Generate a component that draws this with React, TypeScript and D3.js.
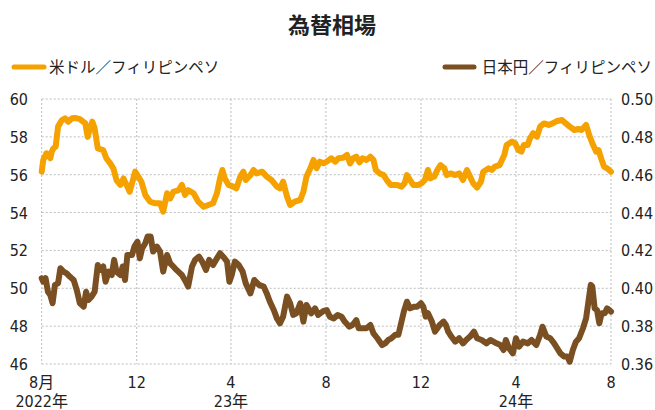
import * as d3 from 'd3'

const width = 655
const height = 410
const marginTop = 99
const marginRight = 44
const marginBottom = 46
const marginLeft = 41.7

// 米ドル／フィリピンペソ (left axis)
const usdPhp: [string, number][] = [
  ['2022-08-01', 56.16], ['2022-08-03', 56.78], ['2022-08-07', 57.13], ['2022-08-12', 56.87],
  ['2022-08-14', 57.22], ['2022-08-16', 57.39], ['2022-08-19', 57.48], ['2022-08-22', 58.54],
  ['2022-08-27', 58.89], ['2022-08-31', 58.98], ['2022-09-04', 58.8], ['2022-09-09', 58.98],
  ['2022-09-13', 59.0], ['2022-09-19', 58.94], ['2022-09-26', 58.71], ['2022-09-29', 58.0],
  ['2022-10-02', 58.45], ['2022-10-05', 58.8], ['2022-10-08', 58.45], ['2022-10-12', 57.39],
  ['2022-10-19', 57.3], ['2022-10-23', 56.87], ['2022-10-28', 56.6], ['2022-11-01', 56.34],
  ['2022-11-05', 55.72], ['2022-11-10', 55.46], ['2022-11-14', 55.8], ['2022-11-18', 55.46],
  ['2022-11-22', 55.1], ['2022-11-29', 56.16], ['2022-12-03', 55.9], ['2022-12-07', 55.63],
  ['2022-12-12', 54.93], ['2022-12-18', 54.58], ['2022-12-25', 54.49], ['2022-12-31', 54.49],
  ['2023-01-04', 54.05], ['2023-01-09', 55.02], ['2023-01-13', 54.75], ['2023-01-17', 55.1],
  ['2023-01-24', 55.19], ['2023-01-28', 55.46], ['2023-02-01', 54.93], ['2023-02-05', 55.19],
  ['2023-02-12', 55.02], ['2023-02-18', 54.58], ['2023-02-25', 54.31], ['2023-03-03', 54.4],
  ['2023-03-09', 54.49], ['2023-03-14', 55.02], ['2023-03-18', 55.81], ['2023-03-21', 56.25],
  ['2023-03-24', 55.81], ['2023-03-29', 55.46], ['2023-04-04', 55.37], ['2023-04-08', 55.28],
  ['2023-04-13', 55.9], ['2023-04-17', 56.16], ['2023-04-20', 55.72], ['2023-04-26', 55.98],
  ['2023-04-30', 56.25], ['2023-05-04', 56.07], ['2023-05-11', 56.16], ['2023-05-17', 55.9],
  ['2023-05-23', 55.72], ['2023-05-30', 55.37], ['2023-06-03', 55.28], ['2023-06-07', 55.63],
  ['2023-06-12', 54.84], ['2023-06-16', 54.4], ['2023-06-22', 54.58], ['2023-06-29', 54.67],
  ['2023-07-03', 55.1], ['2023-07-07', 55.9], ['2023-07-12', 56.34], ['2023-07-16', 56.78],
  ['2023-07-20', 56.34], ['2023-07-24', 56.69], ['2023-07-29', 56.6], ['2023-08-02', 56.69],
  ['2023-08-08', 56.87], ['2023-08-13', 56.69], ['2023-08-17', 56.87], ['2023-08-23', 56.9],
  ['2023-08-28', 57.04], ['2023-09-01', 56.6], ['2023-09-05', 56.87], ['2023-09-09', 56.95],
  ['2023-09-13', 56.65], ['2023-09-17', 56.87], ['2023-09-22', 56.78], ['2023-09-27', 56.95],
  ['2023-10-01', 56.78], ['2023-10-04', 56.25], ['2023-10-09', 56.07], ['2023-10-14', 55.98],
  ['2023-10-18', 55.72], ['2023-10-23', 55.46], ['2023-10-31', 55.46], ['2023-11-06', 55.37],
  ['2023-11-10', 55.55], ['2023-11-13', 55.98], ['2023-11-17', 55.72], ['2023-11-21', 55.46],
  ['2023-11-28', 55.46], ['2023-12-02', 55.55], ['2023-12-06', 55.72], ['2023-12-10', 56.25],
  ['2023-12-13', 55.81], ['2023-12-18', 55.9], ['2023-12-22', 56.25], ['2023-12-26', 56.51],
  ['2023-12-31', 56.34], ['2024-01-03', 55.98], ['2024-01-08', 56.07], ['2024-01-14', 55.98],
  ['2024-01-19', 56.07], ['2024-01-24', 55.72], ['2024-01-29', 56.25], ['2024-02-02', 55.9],
  ['2024-02-06', 55.55], ['2024-02-11', 55.32], ['2024-02-16', 55.63], ['2024-02-19', 56.16],
  ['2024-02-26', 56.34], ['2024-03-01', 56.25], ['2024-03-05', 56.43], ['2024-03-11', 56.51],
  ['2024-03-17', 57.04], ['2024-03-20', 57.57], ['2024-03-27', 57.75], ['2024-03-31', 57.66],
  ['2024-04-04', 57.3], ['2024-04-08', 57.22], ['2024-04-11', 57.57], ['2024-04-16', 57.57],
  ['2024-04-19', 57.92], ['2024-04-23', 58.19], ['2024-04-28', 58.01], ['2024-05-02', 58.54],
  ['2024-05-07', 58.71], ['2024-05-13', 58.63], ['2024-05-18', 58.71], ['2024-05-24', 58.84],
  ['2024-05-30', 58.89], ['2024-06-04', 58.71], ['2024-06-09', 58.54], ['2024-06-15', 58.36],
  ['2024-06-20', 58.42], ['2024-06-24', 58.36], ['2024-06-30', 58.63], ['2024-07-04', 58.1],
  ['2024-07-08', 57.66], ['2024-07-13', 57.22], ['2024-07-16', 57.3], ['2024-07-20', 56.78],
  ['2024-07-23', 56.43], ['2024-07-27', 56.34], ['2024-08-01', 56.16],
]

// 日本円／フィリピンペソ (right axis)
const jpyPhp: [string, number][] = [
  ['2022-08-01', 0.4053], ['2022-08-03', 0.4035], ['2022-08-06', 0.4053], ['2022-08-09', 0.3982],
  ['2022-08-12', 0.3965], ['2022-08-15', 0.3921], ['2022-08-18', 0.4018], ['2022-08-22', 0.4026],
  ['2022-08-25', 0.4106], ['2022-08-29', 0.4088], ['2022-09-02', 0.4079], ['2022-09-06', 0.4062],
  ['2022-09-11', 0.4044], ['2022-09-15', 0.3991], ['2022-09-19', 0.3921], ['2022-09-24', 0.3903],
  ['2022-09-27', 0.3982], ['2022-09-30', 0.3938], ['2022-10-04', 0.3956], ['2022-10-08', 0.3982],
  ['2022-10-12', 0.4123], ['2022-10-15', 0.4097], ['2022-10-19', 0.4115], ['2022-10-22', 0.4035],
  ['2022-10-26', 0.4088], ['2022-10-30', 0.407], ['2022-11-02', 0.415], ['2022-11-05', 0.4088],
  ['2022-11-10', 0.407], ['2022-11-13', 0.4115], ['2022-11-16', 0.4044], ['2022-11-19', 0.4176],
  ['2022-11-25', 0.4176], ['2022-11-28', 0.422], ['2022-12-02', 0.4246], ['2022-12-05', 0.4158],
  ['2022-12-08', 0.4211], ['2022-12-12', 0.4238], ['2022-12-15', 0.4273], ['2022-12-19', 0.4273],
  ['2022-12-22', 0.4194], ['2022-12-27', 0.422], ['2022-12-31', 0.4194], ['2023-01-04', 0.4088],
  ['2023-01-09', 0.4176], ['2023-01-13', 0.4132], ['2023-01-17', 0.4115], ['2023-01-21', 0.4097],
  ['2023-01-28', 0.407], ['2023-02-02', 0.4035], ['2023-02-05', 0.4009], ['2023-02-10', 0.4115],
  ['2023-02-14', 0.415], ['2023-02-19', 0.4167], ['2023-02-23', 0.4141], ['2023-02-28', 0.4097],
  ['2023-03-04', 0.415], ['2023-03-09', 0.4123], ['2023-03-14', 0.4158], ['2023-03-18', 0.4185],
  ['2023-03-22', 0.4167], ['2023-03-27', 0.4141], ['2023-03-30', 0.4035], ['2023-04-02', 0.407],
  ['2023-04-06', 0.4141], ['2023-04-11', 0.4123], ['2023-04-16', 0.4088], ['2023-04-20', 0.4026],
  ['2023-04-26', 0.3973], ['2023-05-01', 0.4044], ['2023-05-07', 0.4018], ['2023-05-13', 0.4009],
  ['2023-05-17', 0.3973], ['2023-05-21', 0.3929], ['2023-05-26', 0.3885], ['2023-05-30', 0.3841],
  ['2023-06-03', 0.3815], ['2023-06-07', 0.385], ['2023-06-12', 0.3956], ['2023-06-16', 0.3921],
  ['2023-06-20', 0.3859], ['2023-06-24', 0.3868], ['2023-06-29', 0.3921], ['2023-07-03', 0.3824],
  ['2023-07-07', 0.3912], ['2023-07-13', 0.3868], ['2023-07-18', 0.3894], ['2023-07-22', 0.3859],
  ['2023-07-29', 0.3881], ['2023-08-02', 0.3885], ['2023-08-06', 0.385], ['2023-08-11', 0.3841],
  ['2023-08-16', 0.3859], ['2023-08-21', 0.385], ['2023-08-25', 0.3824], ['2023-08-31', 0.3797],
  ['2023-09-04', 0.3806], ['2023-09-09', 0.3832], ['2023-09-12', 0.3789], ['2023-09-17', 0.3789],
  ['2023-09-22', 0.3789], ['2023-09-27', 0.3806], ['2023-10-01', 0.3762], ['2023-10-06', 0.3736],
  ['2023-10-12', 0.37], ['2023-10-16', 0.3709], ['2023-10-20', 0.3727], ['2023-10-24', 0.3736],
  ['2023-10-29', 0.3754], ['2023-11-02', 0.3754], ['2023-11-06', 0.3824], ['2023-11-09', 0.3877],
  ['2023-11-13', 0.3929], ['2023-11-17', 0.3894], ['2023-11-22', 0.3903], ['2023-11-26', 0.3903],
  ['2023-12-01', 0.3921], ['2023-12-04', 0.3903], ['2023-12-07', 0.385], ['2023-12-10', 0.3868],
  ['2023-12-15', 0.3824], ['2023-12-19', 0.3771], ['2023-12-25', 0.3806], ['2023-12-30', 0.3824],
  ['2024-01-02', 0.3806], ['2024-01-05', 0.3771], ['2024-01-09', 0.3745], ['2024-01-14', 0.3718],
  ['2024-01-19', 0.3736], ['2024-01-24', 0.3709], ['2024-01-28', 0.3727], ['2024-02-02', 0.3745],
  ['2024-02-07', 0.3771], ['2024-02-11', 0.3736], ['2024-02-17', 0.3727], ['2024-02-23', 0.3709],
  ['2024-02-28', 0.3727], ['2024-03-03', 0.3718], ['2024-03-07', 0.3709], ['2024-03-12', 0.37],
  ['2024-03-16', 0.3674], ['2024-03-19', 0.3727], ['2024-03-23', 0.3683], ['2024-03-28', 0.3656],
  ['2024-04-01', 0.3736], ['2024-04-05', 0.3692], ['2024-04-10', 0.3718], ['2024-04-16', 0.3709],
  ['2024-04-21', 0.3727], ['2024-04-27', 0.37], ['2024-05-02', 0.3754], ['2024-05-05', 0.3797],
  ['2024-05-10', 0.3745], ['2024-05-15', 0.3736], ['2024-05-20', 0.3709], ['2024-05-24', 0.3683],
  ['2024-05-28', 0.3656], ['2024-06-02', 0.3639], ['2024-06-06', 0.3639], ['2024-06-09', 0.3612],
  ['2024-06-13', 0.3674], ['2024-06-17', 0.3718], ['2024-06-21', 0.3736], ['2024-06-26', 0.3789],
  ['2024-06-30', 0.3841], ['2024-07-03', 0.3929], ['2024-07-06', 0.4018], ['2024-07-08', 0.4009],
  ['2024-07-11', 0.3894], ['2024-07-14', 0.3885], ['2024-07-17', 0.3815], ['2024-07-20', 0.3868],
  ['2024-07-24', 0.3868], ['2024-07-27', 0.3894], ['2024-08-01', 0.3877],
]

const leftTicks = [46, 48, 50, 52, 54, 56, 58, 60]
const rightTicks = [0.36, 0.38, 0.4, 0.42, 0.44, 0.46, 0.48, 0.5]
const monthTicks = ['2022-08-01', '2022-12-01', '2023-04-01', '2023-08-01', '2023-12-01', '2024-04-01', '2024-08-01']
const monthLabels = ['8月', '12', '4', '8', '12', '4', '8']
const yearLabels = ['2022年', '', '23年', '', '', '24年', '']

const orange = '#f5a200'
const brown = '#7a4f22'
const tickFont = "'DejaVu Sans', 'Noto Sans CJK JP', sans-serif"
const cjkFont = "'Noto Sans CJK JP', sans-serif"

const parse = d3.timeParse('%Y-%m-%d')

export default function App() {
  const x = d3.scaleTime(
    [parse('2022-08-01')!, parse('2024-08-01')!],
    [marginLeft, width - marginRight]
  )
  const yL = d3.scaleLinear([46, 60], [height - marginBottom, marginTop])
  const yR = d3.scaleLinear([0.36, 0.5], [height - marginBottom, marginTop])

  const lineL = d3
    .line<[string, number]>()
    .x(d => x(parse(d[0])!))
    .y(d => yL(d[1]))
  const lineR = d3
    .line<[string, number]>()
    .x(d => x(parse(d[0])!))
    .y(d => yR(d[1]))

  const grid = { stroke: '#bdbdbd', strokeWidth: 1, strokeDasharray: '2 2' }
  const tick = { fontFamily: tickFont, fontSize: 16, fontStretch: 'condensed', fill: '#222' }

  return (
    <svg
      width={width}
      height={height}
      viewBox={`0 0 ${width} ${height}`}
      style={{ position: 'absolute', left: 0, top: 0, background: '#fff' }}
    >
      {/* title */}
      <text x={332} y={33} textAnchor="middle" fontFamily={cjkFont} fontWeight="bold" fontSize={22} fill="#222">
        為替相場
      </text>

      {/* legend */}
      <line x1={14} x2={44} y1={67} y2={67} stroke={orange} strokeWidth={5} strokeLinecap="round" />
      <text x={49} y={73} fontFamily={cjkFont} fontSize={15.5} fill="#222">
        米ドル／フィリピンペソ
      </text>
      <line x1={445} x2={474} y1={67} y2={67} stroke={brown} strokeWidth={5} strokeLinecap="round" />
      <text x={652} y={73} textAnchor="end" fontFamily={cjkFont} fontSize={15.5} fill="#222">
        日本円／フィリピンペソ
      </text>

      {/* grid */}
      {leftTicks.map(t => (
        <line key={`h${t}`} x1={marginLeft} x2={width - marginRight} y1={yL(t)} y2={yL(t)} {...grid} />
      ))}
      {monthTicks.map(t => (
        <line key={`v${t}`} x1={x(parse(t)!)} x2={x(parse(t)!)} y1={marginTop} y2={height - marginBottom} {...grid} />
      ))}

      {/* left axis */}
      {leftTicks.map(t => (
        <text key={`l${t}`} x={28} y={yL(t) + 6} textAnchor="end" {...tick}>
          {t}
        </text>
      ))}
      {/* right axis */}
      {rightTicks.map(t => (
        <text key={`r${t}`} x={621} y={yR(t) + 6} {...tick}>
          {t.toFixed(2)}
        </text>
      ))}
      {/* bottom axis */}
      {monthTicks.map((t, i) => (
        <g key={`b${t}`} transform={`translate(${x(parse(t)!)},0)`}>
          <text y={388} textAnchor="middle" {...tick}>
            {monthLabels[i]}
          </text>
          {yearLabels[i] && (
            <text y={407} textAnchor="middle" {...tick}>
              {yearLabels[i]}
            </text>
          )}
        </g>
      ))}

      {/* series */}
      <path d={lineR(jpyPhp) ?? ''} fill="none" stroke={brown} strokeWidth={6} strokeLinejoin="round" strokeLinecap="round" />
      <path d={lineL(usdPhp) ?? ''} fill="none" stroke={orange} strokeWidth={6} strokeLinejoin="round" strokeLinecap="round" />
    </svg>
  )
}
